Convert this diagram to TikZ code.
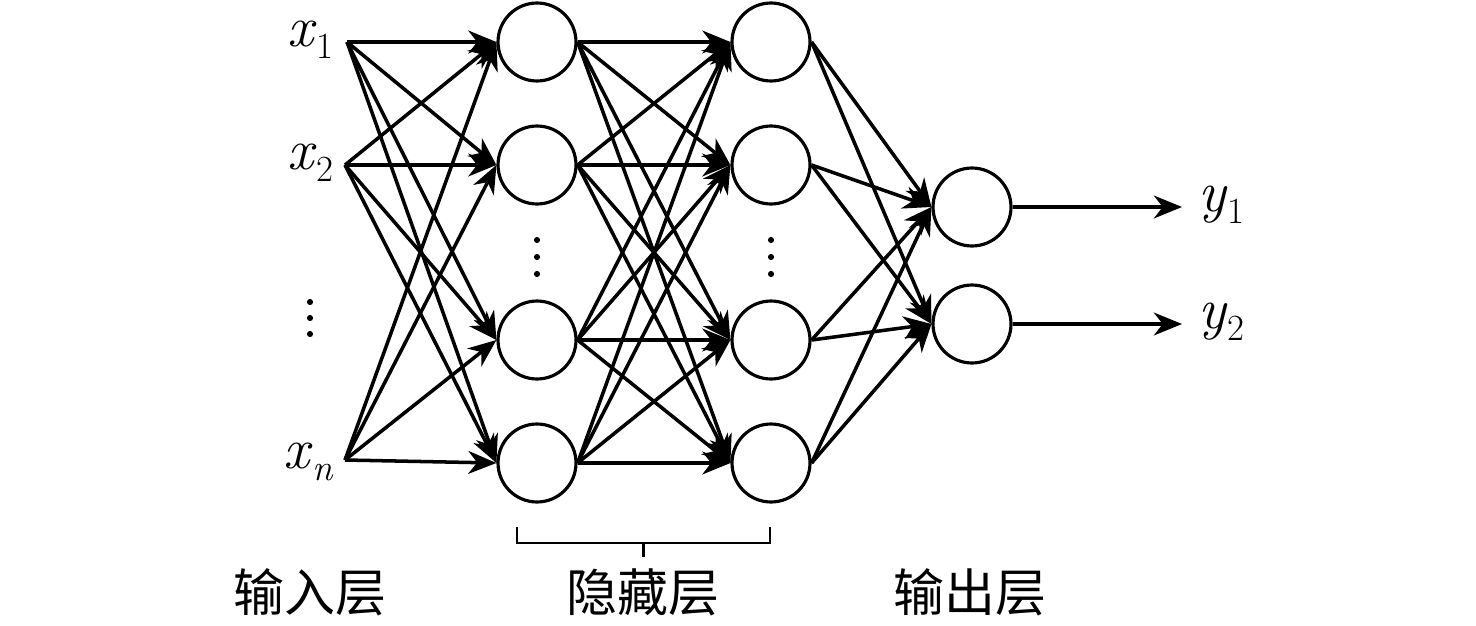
\documentclass[tikz,border=0pt]{standalone}
\usepackage{fontspec}
\newfontfamily\cjk{Noto Sans CJK SC}
\usetikzlibrary{arrows.meta}
\newcommand{\vlab}[2]{\textit{#1}\raisebox{-7pt}{\fontsize{21}{22}\selectfont #2}}
\begin{document}
\begin{tikzpicture}[x=0.02cm,y=-0.02cm,
  neuron/.style={circle,draw,line width=1.8pt,minimum size=1.56cm,inner sep=0pt},
  conn/.style={line width=2pt,-{Stealth[length=16pt,width=13pt,inset=5pt]}},
  lbl/.style={font=\fontsize{33}{34}\selectfont,inner sep=0pt},
  cn/.style={font=\cjk\fontsize{29}{30}\selectfont,inner sep=0pt},
  dotc/.style={fill,circle,inner sep=0pt,minimum size=3.5pt}]
\useasboundingbox (0,0) rectangle (1476,625);
% input points
\coordinate (i1) at (347,42);
\coordinate (i2) at (345,165);
\coordinate (i3) at (345,460);
\node[lbl,anchor=east] (lx1) at (334,40) {\vlab{x}{1}};
\node[lbl,anchor=east] (lx2) at (334,163) {\vlab{x}{2}};
\node[lbl,anchor=east] (lxn) at (334,462) {\vlab{x}{\textit{n}}};
% hidden layer 1
\node[neuron] (a1) at (537,42) {};
\node[neuron] (a2) at (537,165) {};
\node[neuron] (a3) at (537,340) {};
\node[neuron] (a4) at (537,463) {};
% hidden layer 2
\node[neuron] (b1) at (771,42) {};
\node[neuron] (b2) at (771,165) {};
\node[neuron] (b3) at (771,340) {};
\node[neuron] (b4) at (771,463) {};
% output
\node[neuron] (c1) at (972,207) {};
\node[neuron] (c2) at (972,324) {};
% dots
\node[dotc] (d1) at (310,302) {};
\node[dotc] (d2) at (310,318) {};
\node[dotc] (d3) at (310,334) {};
\node[dotc] (e1) at (537,240) {};
\node[dotc] (e2) at (537,257) {};
\node[dotc] (e3) at (537,274) {};
\node[dotc] (f1) at (771,240) {};
\node[dotc] (f2) at (771,257) {};
\node[dotc] (f3) at (771,274) {};
% connections
\foreach \s in {i1,i2,i3}
  \foreach \t in {a1,a2,a3,a4}
    \draw[conn] (\s) -- (\t.west);
\foreach \s in {a1,a2,a3,a4}
  \foreach \t in {b1,b2,b3,b4}
    \draw[conn] (\s.east) -- (\t.west);
\foreach \s in {b1,b2,b3,b4}
  \foreach \t in {c1,c2}
    \draw[conn] (\s.east) -- (\t.west);
\coordinate (o1) at (1182,207);
\coordinate (o2) at (1182,324);
\draw[conn] (c1.east) -- (o1);
\draw[conn] (c2.east) -- (o2);
\node[lbl,anchor=west] (ly1) at (1198,205) {\vlab{y}{1}};
\node[lbl,anchor=west] (ly2) at (1198,322) {\vlab{y}{2}};
% bracket
\coordinate (br1) at (517,527);
\coordinate (br2) at (770,527);
\coordinate (brm) at (643.5,543);
\coordinate (brt) at (643.5,557);
\draw[line width=1.6pt] (br1) -- (517,543) -- (770,543) -- (br2);
\draw[line width=1.6pt] (brm) -- (brt);
% layer labels
\node[cn] (t1) at (310,592) {输入层};
\node[cn] (t2) at (643,592) {隐藏层};
\node[cn] (t3) at (970,592) {输出层};
\end{tikzpicture}
\end{document}
